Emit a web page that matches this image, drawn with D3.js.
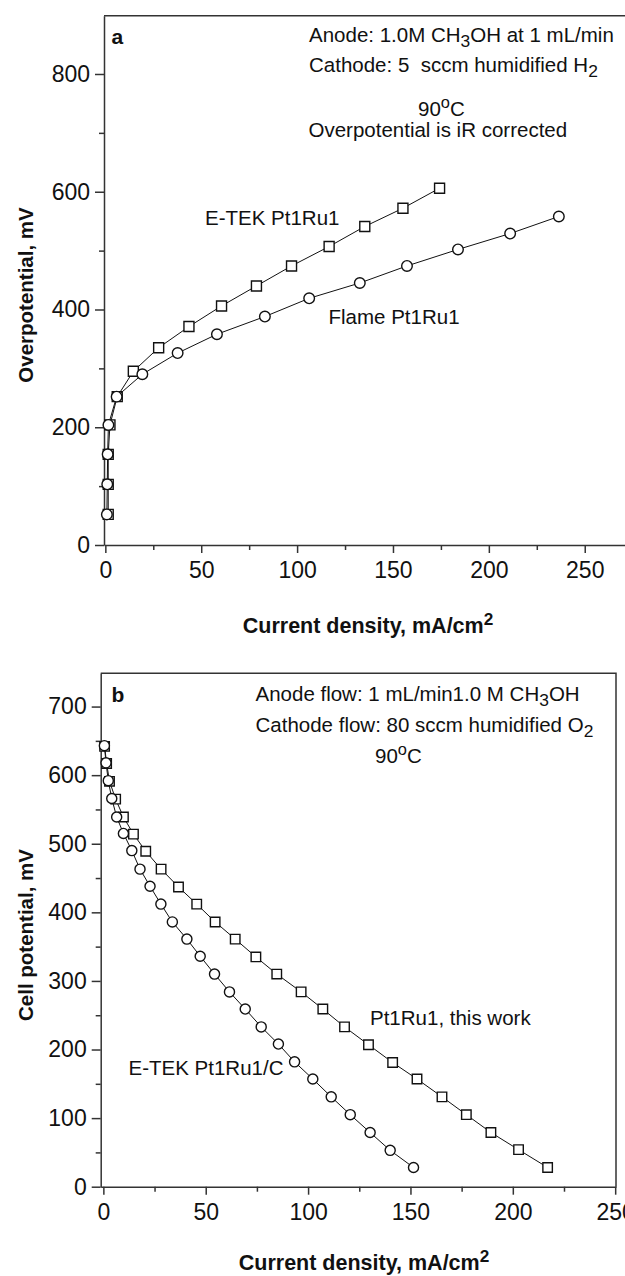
<!DOCTYPE html>
<html>
<head>
<meta charset="utf-8">
<script src="https://cdn.jsdelivr.net/npm/d3@7"></script>
<style>
  html, body { margin: 0; padding: 0; background: #fff; }
  svg { display: block; font-family: "Liberation Sans", Arial, sans-serif; }
</style>
</head>
<body>
<svg id="chart" width="625" height="1276"></svg>
<script>
// ---------- Panel a data ----------
const etekA_x = [1.5, 1.5, 1.5, 2.4, 6.2, 14.6, 27.8, 43.6, 60.6, 78.8, 97.1, 116.7, 135.3, 155.2, 174.3];
const etekA_y = [52, 103, 154, 204, 252, 295, 335, 371, 406, 440, 474, 507, 541, 572, 606];
const flameA_x = [0.8, 1.0, 1.2, 1.6, 5.9, 19.3, 37.7, 58.2, 83.2, 106.3, 132.7, 157.3, 183.9, 211.1, 236.5];
const flameA_y = [52, 103, 154, 204, 252, 290, 326, 358, 388, 419, 445, 474, 502, 529, 558];
const xTicksA = [0, 50, 100, 150, 200, 250];
const xMinorA = [25, 75, 125, 175, 225];
const yTicksA = [0, 200, 400, 600, 800];
const yMinorA = [100, 300, 500, 700];

// ---------- Panel b data ----------
const thisB_x = [0.6, 1.6, 3.0, 6.0, 9.8, 14.7, 20.7, 28.2, 36.7, 45.6, 54.6, 64.4, 74.5, 84.7, 96.6, 107.2, 117.8, 129.5, 141.3, 153.2, 165.4, 177.3, 189.3, 202.8, 217.0];
const thisB_y = [642, 617, 591, 565, 539, 514, 489, 463, 437, 412, 386, 361, 335, 310, 284, 259, 233, 207, 181, 157, 131, 105, 79, 54, 28];
const etekB_x = [0.5, 1.3, 2.4, 4.1, 6.5, 9.8, 13.9, 17.9, 22.8, 28.1, 33.7, 40.8, 47.3, 54.3, 61.6, 69.3, 77.1, 85.5, 93.4, 102.3, 111.3, 120.6, 130.3, 140.1, 151.5];
const etekB_y = [643, 618, 592, 566, 539, 515, 490, 463, 438, 412, 386, 361, 336, 310, 284, 259, 233, 208, 182, 157, 131, 105, 79, 53, 28];
const xTicksB = [0, 50, 100, 150, 200, 250];
const xMinorB = [25, 75, 125, 175, 225];
const yTicksB = [0, 100, 200, 300, 400, 500, 600, 700];
const yMinorB = [50, 150, 250, 350, 450, 550, 650];

const svg = d3.select("#chart");
const AX = "#333";

function zip(xs, ys) { return xs.map((x, i) => ({x, y: ys[i]})); }

function drawAxes(g, x, y, o) {
  // minor ticks
  g.append("g").attr("transform", `translate(0,${o.y0})`)
    .call(d3.axisBottom(x).tickValues(o.xMinor).tickSize(5).tickSizeOuter(0).tickFormat(""))
    .call(s => s.select(".domain").remove());
  g.append("g").attr("transform", `translate(${o.x0},0)`)
    .call(d3.axisLeft(y).tickValues(o.yMinor).tickSize(5).tickSizeOuter(0).tickFormat(""))
    .call(s => s.select(".domain").remove());
  const gx = g.append("g").attr("transform", `translate(0,${o.y0})`)
    .call(d3.axisBottom(x).tickValues(o.xTicks).tickSize(8).tickSizeOuter(0).tickPadding(9).tickFormat(d3.format("d")));
  const gy = g.append("g").attr("transform", `translate(${o.x0},0)`)
    .call(d3.axisLeft(y).tickValues(o.yTicks).tickSize(9).tickSizeOuter(0).tickPadding(5).tickFormat(d3.format("d")));
  [gx, gy].forEach(a => {
    a.selectAll("path, line").attr("stroke", AX).attr("stroke-width", 1.5);
    a.selectAll("text").attr("font-size", 23).attr("fill", "#111").attr("font-family", "Liberation Sans, Arial, sans-serif");
  });
  g.selectAll("g.tick line").attr("stroke", AX).attr("stroke-width", 1.5);
}

function drawSeries(g, x, y, data, shape, size) {
  const line = d3.line().x(d => x(d.x)).y(d => y(d.y));
  g.append("path").datum(data).attr("d", line)
    .attr("fill", "none").attr("stroke", "#111").attr("stroke-width", 1);
  const sym = d3.symbol().type(shape === "square" ? d3.symbolSquare : d3.symbolCircle).size(size);
  g.selectAll(null).data(data).enter().append("path")
    .attr("d", sym)
    .attr("transform", d => `translate(${x(d.x)},${y(d.y)})`)
    .attr("fill", "#fff").attr("stroke", "#111").attr("stroke-width", 1.4);
}

function txt(g, x, y, parts, opts = {}) {
  const sz = opts.size || 20.5;
  const t = g.append("text").attr("x", x).attr("y", y)
    .attr("font-size", sz).attr("fill", "#111")
    .attr("font-weight", opts.bold ? "bold" : "normal")
    .attr("text-anchor", opts.anchor || "start");
  parts.forEach(p => {
    if (typeof p === "string") t.append("tspan").text(p);
    else if (p.sub) t.append("tspan").attr("baseline-shift", "-5").attr("font-size", sz * 0.85).text(p.sub);
    else if (p.sup) t.append("tspan").attr("baseline-shift", "8").attr("font-size", sz * 0.8).text(p.sup);
  });
  if (opts.rotate) t.attr("transform", `rotate(-90,${x},${y})`);
  return t;
}

// ================= Panel a =================
{
  const g = svg.append("g");
  const x = d3.scaleLinear().domain([-0.7, 271]).range([104, 625]);
  const y = d3.scaleLinear().domain([0, 899]).range([545, 15.7]);
  drawAxes(g, x, y, {y0: 545, x0: 104, xTicks: xTicksA, xMinor: xMinorA, yTicks: yTicksA, yMinor: yMinorA});
  g.append("line").attr("x1", 104).attr("x2", 625).attr("y1", 15.7).attr("y2", 15.7)
    .attr("stroke", AX).attr("stroke-width", 1.5);
  drawSeries(g, x, y, zip(etekA_x, etekA_y), "square", 100);
  drawSeries(g, x, y, zip(flameA_x, flameA_y), "circle", 88);

  txt(g, 111.5, 43.5, ["a"], {bold: true, size: 21});
  txt(g, 309, 42, ["Anode: 1.0M CH", {sub: "3"}, "OH at 1 mL/min"]);
  txt(g, 309, 72, ["Cathode: 5\u00a0 sccm humidified H", {sub: "2"}]);
  txt(g, 418, 116, ["90", {sup: "o"}, "C"]);
  txt(g, 308.5, 137, ["Overpotential is iR corrected"]);
  txt(g, 205, 225, ["E-TEK Pt1Ru1"]);
  txt(g, 328.5, 324, ["Flame Pt1Ru1"]);
  txt(g, 368, 633, ["Current density, mA/cm", {sup: "2"}], {bold: true, size: 21.5, anchor: "middle"});
  txt(g, 33, 295, ["Overpotential, mV"], {bold: true, size: 20.5, anchor: "middle", rotate: true});
}

// ================= Panel b =================
{
  const g = svg.append("g");
  const x = d3.scaleLinear().domain([-1.3, 250.4]).range([100.7, 616]);
  const y = d3.scaleLinear().domain([0, 748.5]).range([1186.7, 673.3]);
  drawAxes(g, x, y, {y0: 1186.7, x0: 100.7, xTicks: xTicksB, xMinor: xMinorB, yTicks: yTicksB, yMinor: yMinorB});
  g.append("path").attr("d", `M100.7,673.3H616V1186.7`)
    .attr("fill", "none").attr("stroke", AX).attr("stroke-width", 1.5);
  drawSeries(g, x, y, zip(thisB_x, thisB_y), "square", 90);
  drawSeries(g, x, y, zip(etekB_x, etekB_y), "circle", 80);

  txt(g, 111.5, 701.5, ["b"], {bold: true, size: 21});
  txt(g, 255.5, 700.5, ["Anode flow: 1 mL/min1.0 M CH", {sub: "3"}, "OH"]);
  txt(g, 255.5, 731.5, ["Cathode flow: 80 sccm humidified O", {sub: "2"}]);
  txt(g, 375, 763, ["90", {sup: "o"}, "C"]);
  txt(g, 370, 1024.5, ["Pt1Ru1, this work"]);
  txt(g, 128.5, 1075, ["E-TEK Pt1Ru1/C"]);
  txt(g, 364, 1270, ["Current density, mA/cm", {sup: "2"}], {bold: true, size: 21.5, anchor: "middle"});
  txt(g, 33, 935, ["Cell potential, mV"], {bold: true, size: 20.5, anchor: "middle", rotate: true});
}
</script>
</body>
</html>
